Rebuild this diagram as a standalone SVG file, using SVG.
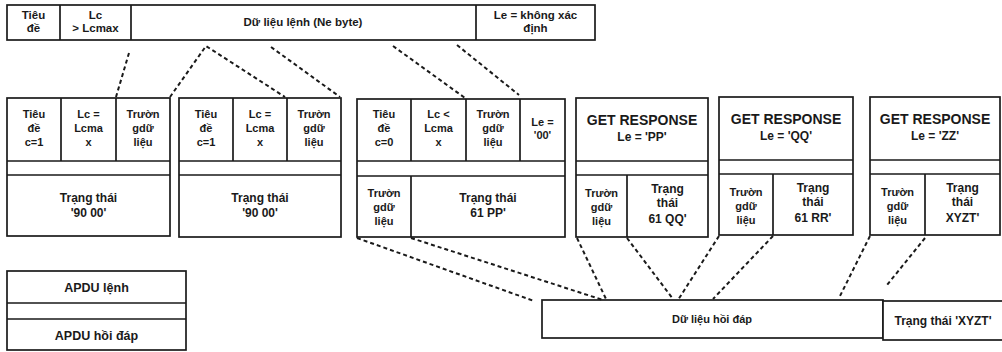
<svg xmlns="http://www.w3.org/2000/svg" width="1002" height="352" viewBox="0 0 1002 352">
<style>
.b{fill:#fff;stroke:#1a1a1a;stroke-width:1.7}
.l{stroke:#1a1a1a;stroke-width:1.7;fill:none}
.d{stroke:#1a1a1a;stroke-width:2;stroke-dasharray:4 3;fill:none}
text{font-family:"Liberation Sans",Arial,sans-serif;font-weight:bold;fill:#1a1a1a;text-anchor:middle}
.t{font-size:11.5px}
.s{font-size:11px}
.m{font-size:12px}
.g{font-size:14px}
.k{font-size:12.5px}
</style>
<rect width="1002" height="352" fill="#fff"/>
<g id="top-bar">
<rect class="b" x="7" y="5" width="588" height="35"/>
<path class="l" d="M60 5V40M131 5V40M476 5V40"/>
<text class="t" x="33.5" y="19">Tiêu</text>
<text class="t" x="33.5" y="32">đề</text>
<text class="t" x="95.5" y="19">Lc</text>
<text class="t" x="95.5" y="32">&gt; Lcmax</text>
<text class="t" x="303" y="26">Dữ liệu lệnh (Ne byte)</text>
<text class="t" x="535.5" y="19">Le = không xác</text>
<text class="t" x="535.5" y="32">định</text>
</g>
<g id="cmd1">
<rect class="b" x="7" y="98" width="163" height="138"/>
<path class="l" d="M7 161H170M7 175H170M61 98V161M116 98V161"/>
<text class="s" x="34" y="118">Tiêu</text><text class="s" x="34" y="132">đề</text><text class="s" x="34" y="146">c=1</text>
<text class="s" x="88.5" y="118">Lc =</text><text class="s" x="88.5" y="132">Lcma</text><text class="s" x="88.5" y="146">x</text>
<text class="s" x="143" y="118">Trườn</text><text class="s" x="143" y="132">gdữ</text><text class="s" x="143" y="146">liệu</text>
<text class="m" x="88.5" y="202">Trạng thái</text><text class="m" x="88.5" y="217">'90 00'</text>
</g>
<g id="cmd2">
<rect class="b" x="179" y="98" width="162" height="139"/>
<path class="l" d="M179 161H341M179 175H341M233 98V161M287 98V161"/>
<text class="s" x="206" y="118">Tiêu</text><text class="s" x="206" y="132">đề</text><text class="s" x="206" y="146">c=1</text>
<text class="s" x="260" y="118">Lc =</text><text class="s" x="260" y="132">Lcma</text><text class="s" x="260" y="146">x</text>
<text class="s" x="314" y="118">Trườn</text><text class="s" x="314" y="132">gdữ</text><text class="s" x="314" y="146">liệu</text>
<text class="m" x="260" y="202">Trạng thái</text><text class="m" x="260" y="217">'90 00'</text>
</g>
<g id="cmd3">
<rect class="b" x="357" y="99" width="208" height="138"/>
<path class="l" d="M357 161H565M357 176H565M411 99V161M466 99V161M520 99V161M411 176V237"/>
<text class="s" x="384" y="118">Tiêu</text><text class="s" x="384" y="132">đề</text><text class="s" x="384" y="146">c=0</text>
<text class="s" x="438.5" y="118">Lc &lt;</text><text class="s" x="438.5" y="132">Lcma</text><text class="s" x="438.5" y="146">x</text>
<text class="s" x="493" y="118">Trườn</text><text class="s" x="493" y="132">gdữ</text><text class="s" x="493" y="146">liệu</text>
<text class="s" x="542.5" y="126">Le =</text><text class="s" x="542.5" y="139">'00'</text>
<text class="s" x="384" y="197">Trườn</text><text class="s" x="384" y="211">gdữ</text><text class="s" x="384" y="225">liệu</text>
<text class="m" x="488" y="202">Trạng thái</text><text class="m" x="488" y="217">61 PP'</text>
</g>
<g id="resp1">
<rect class="b" x="576" y="98" width="132" height="139"/>
<path class="l" d="M576 161H708M576 175H708M627 175V237"/>
<text class="g" x="642" y="125">GET RESPONSE</text><text class="m" x="642" y="141">Le = 'PP'</text>
<text class="s" x="601.5" y="197">Trườn</text><text class="s" x="601.5" y="211">gdữ</text><text class="s" x="601.5" y="225">liệu</text>
<text class="m" x="667.5" y="193">Trạng</text><text class="m" x="667.5" y="207">thái</text><text class="m" x="667.5" y="223">61 QQ'</text>
</g>
<g id="resp2">
<rect class="b" x="719" y="97" width="134" height="138"/>
<path class="l" d="M719 160H853M719 174H853M773 174V235"/>
<text class="g" x="786" y="124">GET RESPONSE</text><text class="m" x="786" y="140">Le = 'QQ'</text>
<text class="s" x="746" y="196">Trườn</text><text class="s" x="746" y="210">gdữ</text><text class="s" x="746" y="224">liệu</text>
<text class="m" x="813" y="192">Trạng</text><text class="m" x="813" y="206">thái</text><text class="m" x="813" y="222">61 RR'</text>
</g>
<g id="resp3">
<rect class="b" x="870" y="97" width="130" height="138"/>
<path class="l" d="M870 160H1000M870 174H1000M925 174V235"/>
<text class="g" x="935" y="124">GET RESPONSE</text><text class="m" x="935" y="140">Le = 'ZZ'</text>
<text class="s" x="897.5" y="196">Trườn</text><text class="s" x="897.5" y="210">gdữ</text><text class="s" x="897.5" y="224">liệu</text>
<text class="m" x="962.5" y="192">Trạng</text><text class="m" x="962.5" y="206">thái</text><text class="m" x="962.5" y="222">XYZT'</text>
</g>
<g id="legend">
<rect class="b" x="7" y="271" width="179" height="79"/>
<path class="l" d="M7 303H186M7 319H186"/>
<text class="k" x="96.5" y="292">APDU lệnh</text>
<text class="k" x="96.5" y="340">APDU hồi đáp</text>
</g>
<g id="response-data">
<rect class="b" x="542" y="300" width="341" height="38"/>
<rect class="b" x="883" y="301" width="125" height="39"/>
<text class="s" x="712" y="323">Dữ liệu hồi đáp</text>
<text class="m" x="943" y="325">Trạng thái 'XYZT'</text>
</g>
<g id="connectors">
<path class="d" d="M129 53L116 97"/>
<path class="d" d="M170 97L206 46L285 97"/>
<path class="d" d="M271 47L340 97"/>
<path class="d" d="M393 46L465 98"/>
<path class="d" d="M457 45L519 95"/>
<path class="d" d="M357 238L534 301"/>
<path class="d" d="M411 238L603 300"/>
<path class="d" d="M577 238L606 299"/>
<path class="d" d="M627 238L673 299"/>
<path class="d" d="M719 236L678 300"/>
<path class="d" d="M773 236L713 299"/>
<path class="d" d="M870 236L840 296"/>
<path class="d" d="M925 238L887 285"/>
</g>
</svg>
